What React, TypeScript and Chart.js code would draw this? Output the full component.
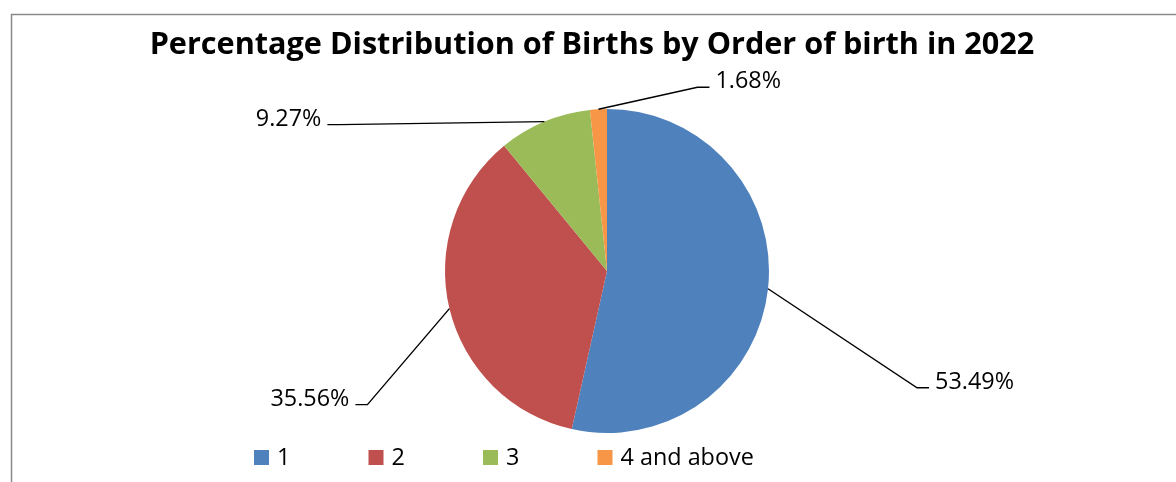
import React, { useEffect, useRef } from "react";
import { Chart, registerables } from "chart.js";

Chart.register(...registerables);

const TITLE = "Percentage Distribution of Births by Order of birth in 2022";
const categories = ["1", "2", "3", "4 and above"];
const percentages = [53.49, 35.56, 9.27, 1.68];
const dataLabels = ["53.49%", "35.56%", "9.27%", "1.68%"];
const colors = ["#4F81BD", "#C0504D", "#9BBB59", "#F79646"];

// leader-line layout: elbow offset from slice edge point, side of the text
const leaderLayout = [
  { dx: 149, dy: 99, side: 1 },
  { dx: -82, dy: 96, side: -1 },
  { dx: -205, dy: 3, side: -1 },
  { dx: 99, dy: -22, side: 1 },
];

const FONT = "'Open Sans', Lato, sans-serif";

function fitFont(ctx: CanvasRenderingContext2D, text: string, weight: string, target: number) {
  ctx.font = `${weight} 20px ${FONT}`;
  const w = ctx.measureText(text).width;
  return (20 * target) / w;
}

const overlayPlugin = {
  id: "overlay",
  afterDraw(chart: any) {
    const ctx = chart.ctx as CanvasRenderingContext2D;
    ctx.save();
    // frame
    ctx.strokeStyle = "#8a8a8a";
    ctx.lineWidth = 1.5;
    ctx.beginPath();
    ctx.moveTo(11.5, chart.height + 5);
    ctx.lineTo(11.5, 14.5);
    ctx.lineTo(chart.width + 5, 14.5);
    ctx.stroke();

    // title
    const ts = fitFont(ctx, TITLE, "bold", 885);
    ctx.fillStyle = "#000";
    ctx.font = `bold ${ts}px ${FONT}`;
    ctx.textAlign = "center";
    ctx.textBaseline = "alphabetic";
    ctx.fillText(TITLE, 592, 54);

    // data labels with leader lines
    const ls = fitFont(ctx, "53.49%", "normal", 79);
    const meta = chart.getDatasetMeta(0);
    ctx.font = `${ls}px ${FONT}`;
    meta.data.forEach((arc: any, i: number) => {
      const { x, y, startAngle, endAngle, outerRadius } = arc.getProps(
        ["x", "y", "startAngle", "endAngle", "outerRadius"],
        true
      );
      const mid = (startAngle + endAngle) / 2;
      const ex = x + Math.cos(mid) * outerRadius;
      const ey = y + Math.sin(mid) * outerRadius;
      const L = leaderLayout[i];
      const bx = ex + L.dx;
      const by = ey + L.dy;
      const sx = bx + L.side * 12;
      ctx.strokeStyle = "#000";
      ctx.lineWidth = 1.4;
      ctx.beginPath();
      ctx.moveTo(ex, ey);
      ctx.lineTo(bx, by);
      ctx.lineTo(sx, by);
      ctx.stroke();
      ctx.fillStyle = "#000";
      ctx.textAlign = L.side > 0 ? "left" : "right";
      ctx.fillText(dataLabels[i], sx + L.side * 6, by + 1);
    });

    // legend
    const startX = 254;
    const step = 114.5;
    ctx.font = `${ls}px ${FONT}`;
    ctx.textAlign = "left";
    categories.forEach((c, i) => {
      const lx = startX + i * step;
      ctx.fillStyle = colors[i];
      ctx.fillRect(lx, 450, 15, 15);
      ctx.fillStyle = "#000";
      ctx.fillText(c, lx + 23, 465);
    });
    ctx.restore();
  },
};

export default function App() {
  const ref = useRef<HTMLCanvasElement | null>(null);
  useEffect(() => {
    document.body.style.margin = "0";
    if (!ref.current) return;
    const chart = new Chart(ref.current, {
      type: "pie",
      data: {
        labels: categories,
        datasets: [
          {
            data: percentages,
            backgroundColor: colors,
            borderWidth: 0,
            hoverOffset: 0,
            offset: 0,
          },
        ],
      },
      options: {
        responsive: false,
        animation: false,
        devicePixelRatio: 1,
        layout: { padding: { left: 445, right: 407, top: 109, bottom: 49 } },
        plugins: {
          legend: { display: false },
          title: { display: false },
          tooltip: { enabled: false },
        },
      },
      plugins: [overlayPlugin],
    });
    return () => chart.destroy();
  }, []);
  return (
    <div style={{ position: "absolute", left: 0, top: 0, width: 1176, height: 482, background: "#fff" }}>
      <canvas ref={ref} width={1176} height={482} />
    </div>
  );
}
